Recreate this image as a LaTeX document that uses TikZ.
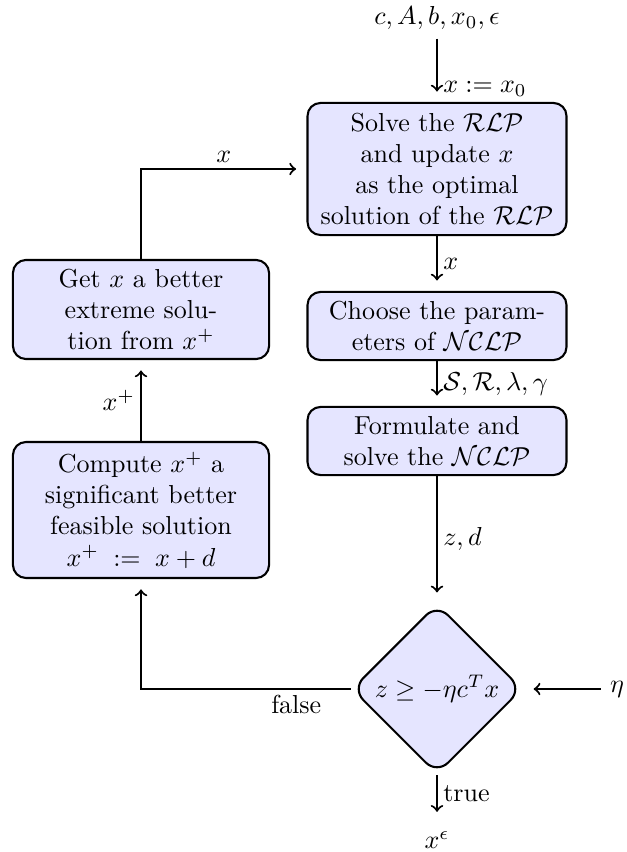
\documentclass[tikz,border=0pt]{standalone}
\usetikzlibrary{shapes.geometric,arrows}
\begin{document}
\begin{tikzpicture}[x=0.3846pt,y=-0.3846pt,
  box/.style={draw,thick,rounded corners=5pt,fill=blue!10,align=center,inner sep=2pt},
  cond/.style={draw,thick,diamond,aspect=1,rounded corners=6pt,fill=blue!10,minimum size=65.5pt,inner sep=0pt},
  flow/.style={->,thick,shorten >=4pt},
  lbl/.style={inner sep=2pt}]
\useasboundingbox (0,0) rectangle (626,852);
\node (in) at (437,18) {$c, A, b, x_0, \epsilon$};
\node[box,minimum width=99.6pt,minimum height=50.8pt] (b1) at (437,169) {Solve the $\mathcal{RLP}$\\and update $x$\\as the optimal\\solution of the $\mathcal{RLP}$};
\node[box,minimum width=99.6pt,minimum height=26.2pt] (b2) at (437,326) {Choose the param-\\eters of $\mathcal{NCLP}$};
\node[box,minimum width=99.6pt,minimum height=26.2pt] (b3) at (437,441) {Formulate and\\solve the $\mathcal{NCLP}$};
\node[cond] (d) at (437,689) {$z \geq -\eta c^T x$};
\node[box,minimum width=98.5pt,minimum height=52.3pt] (b4) at (141,510) {Compute $x^+$ a\\significant better\\feasible solution\\$x^+\;:=\;x+d$};
\node[box,minimum width=98.5pt,minimum height=38.1pt] (b5) at (141,309.5) {Get $x$ a better\\extreme solu-\\tion from $x^+$};
\node (eta) at (617,689) {$\eta$};
\node (xe) at (437,840) {$x^\epsilon$};
\draw[flow] (in) -- node[lbl,right,pos=0.8] {$x := x_0$} (b1);
\draw[flow] (b1) -- node[lbl,right] {$x$} (b2);
\draw[flow] (b2) -- node[lbl,right] {$\mathcal{S}, \mathcal{R}, \lambda, \gamma$} (b3);
\draw[flow] (b3) -- node[lbl,right] {$z, d$} (d);
\draw[flow] (eta) -- (d);
\draw[flow] (d) -- node[lbl,right,pos=0.4] {true} (xe);
\draw[flow] (d.west) -| node[lbl,below,pos=0.13] {false} (b4.south);
\draw[flow] (b4) -- node[lbl,left] {$x^+$} (b5);
\draw[flow] (b5.north) |- node[lbl,above,pos=0.75] {$x$} (b1.west);
\end{tikzpicture}
\end{document}
